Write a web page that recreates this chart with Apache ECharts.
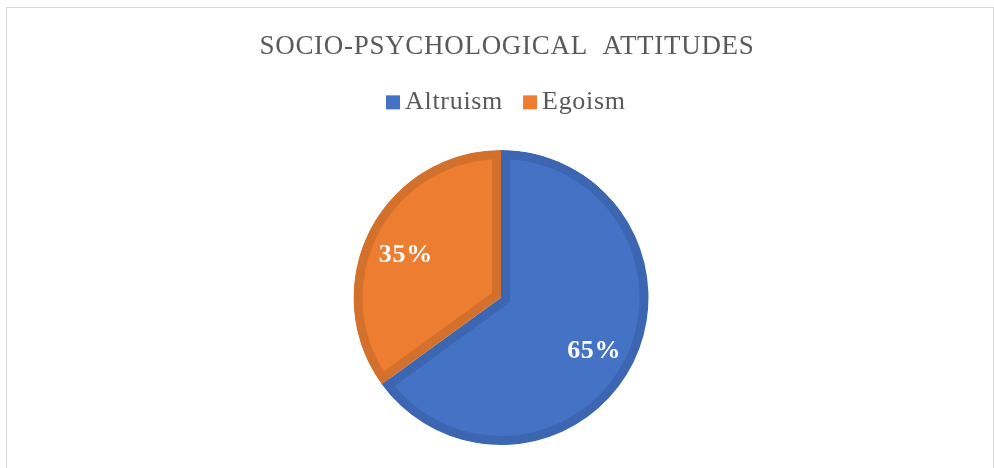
<!DOCTYPE html>
<html>
<head>
<meta charset="utf-8">
<script src="https://cdn.jsdelivr.net/npm/echarts@6/dist/echarts.min.js"></script>
<style>
  body { margin: 0; background: #fff; }
  #frame { position: absolute; left: 6px; top: 7px; width: 986px; height: 480px; border: 1px solid #d9d9d9; }
  #main { position: absolute; left: 0; top: 0; width: 994px; height: 468px; }
</style>
</head>
<body>
<div id="frame"></div>
<div id="main"></div>
<script>
// data
var names = ['Altruism', 'Egoism'];
var values = [65, 35];
var lightColors = ['#4472c4', '#ed7d31'];
var darkColors = ['#3c66b2', '#d3702c'];

// the office chart uses slightly spaced letters; canvas can do that too
(function () {
    var proto = CanvasRenderingContext2D.prototype;
    var desc = Object.getOwnPropertyDescriptor(proto, 'font');
    if (!desc || !('letterSpacing' in proto)) return;
    Object.defineProperty(proto, 'font', {
        configurable: true,
        get: desc.get,
        set: function (v) { desc.set.call(this, v); this.letterSpacing = '0.7px'; }
    });
})();

var font = "'Liberation Serif', 'Times New Roman', serif";
var cx = 501, cy = 297.5, R = 147.5, band = 9;
var total = values.reduce(function (a, b) { return a + b; }, 0);

function pieData(colors) {
    return names.map(function (n, i) {
        return { name: n, value: values[i], itemStyle: { color: colors[i] } };
    });
}

var myChart = echarts.init(document.getElementById('main'));

var series = [];
// dark base = the slice border
series.push({
    type: 'pie', silent: true, animation: false,
    center: [cx, cy], radius: R, startAngle: 90, clockwise: true,
    itemStyle: { borderWidth: 0 },
    label: { show: false }, labelLine: { show: false },
    data: pieData(darkColors)
});

// light inner part of each slice, pushed in along its bisector
var acc = 0;
values.forEach(function (v, i) {
    var span = v / total * 360;
    var bis = (90 - acc - span / 2) * Math.PI / 180;
    var half = span / 2 * Math.PI / 180;
    var d = band / Math.sin(half);
    var r = R - band - d * Math.cos(half) + 1;
    var cols = names.map(function (n, j) { return j === i ? lightColors[i] : 'rgba(0,0,0,0)'; });
    series.push({
        type: 'pie', silent: true, animation: false,
        center: [cx + d * Math.cos(bis), cy - d * Math.sin(bis)],
        radius: r, startAngle: 90, clockwise: true,
        itemStyle: { borderWidth: 0 },
        label: { show: false }, labelLine: { show: false },
        data: pieData(cols)
    });
    acc += span;
});

// outer dark rim + white mask outside
series.push({
    type: 'pie', silent: true, animation: false,
    center: [cx, cy], radius: [R - band, R], startAngle: 90, clockwise: true,
    itemStyle: { borderWidth: 0 },
    label: { show: false }, labelLine: { show: false },
    data: pieData(darkColors)
});
series.push({
    type: 'pie', silent: true, animation: false,
    center: [cx, cy], radius: [R, R + 14], startAngle: 90, clockwise: true,
    itemStyle: { borderWidth: 0 },
    label: { show: false }, labelLine: { show: false },
    data: pieData(['#ffffff', '#ffffff'])
});

// labels
series.push({
    type: 'pie', silent: true, animation: false,
    center: [cx, cy], radius: [58, R], startAngle: 90, clockwise: true,
    itemStyle: { borderWidth: 0 },
    label: {
        show: true, position: 'inside', formatter: '{d}%', offset: [-1, 6],
        color: '#ffffff', fontFamily: font, fontSize: 26, fontWeight: 'bold'
    },
    labelLine: { show: false },
    data: pieData(['rgba(0,0,0,0)', 'rgba(0,0,0,0)'])
});

var option = {
    title: {
        text: 'SOCIO-PSYCHOLOGICAL  ATTITUDES',
        left: 502, top: 28, textAlign: 'center',
        textStyle: { fontFamily: font, fontSize: 27, fontWeight: 'normal', color: '#595959' }
    },
    legend: {
        left: 386, top: 89, padding: 0,
        selectedMode: false,
        icon: 'rect', itemWidth: 14, itemHeight: 14, itemGap: 20,
        textStyle: { fontFamily: font, fontSize: 26, color: '#595959', padding: [0, 0, 0, 0] },
        data: names.map(function (n, i) {
            return { name: n, itemStyle: { color: lightColors[i] } };
        })
    },
    series: series
};
myChart.setOption(option);
</script>
</body>
</html>
